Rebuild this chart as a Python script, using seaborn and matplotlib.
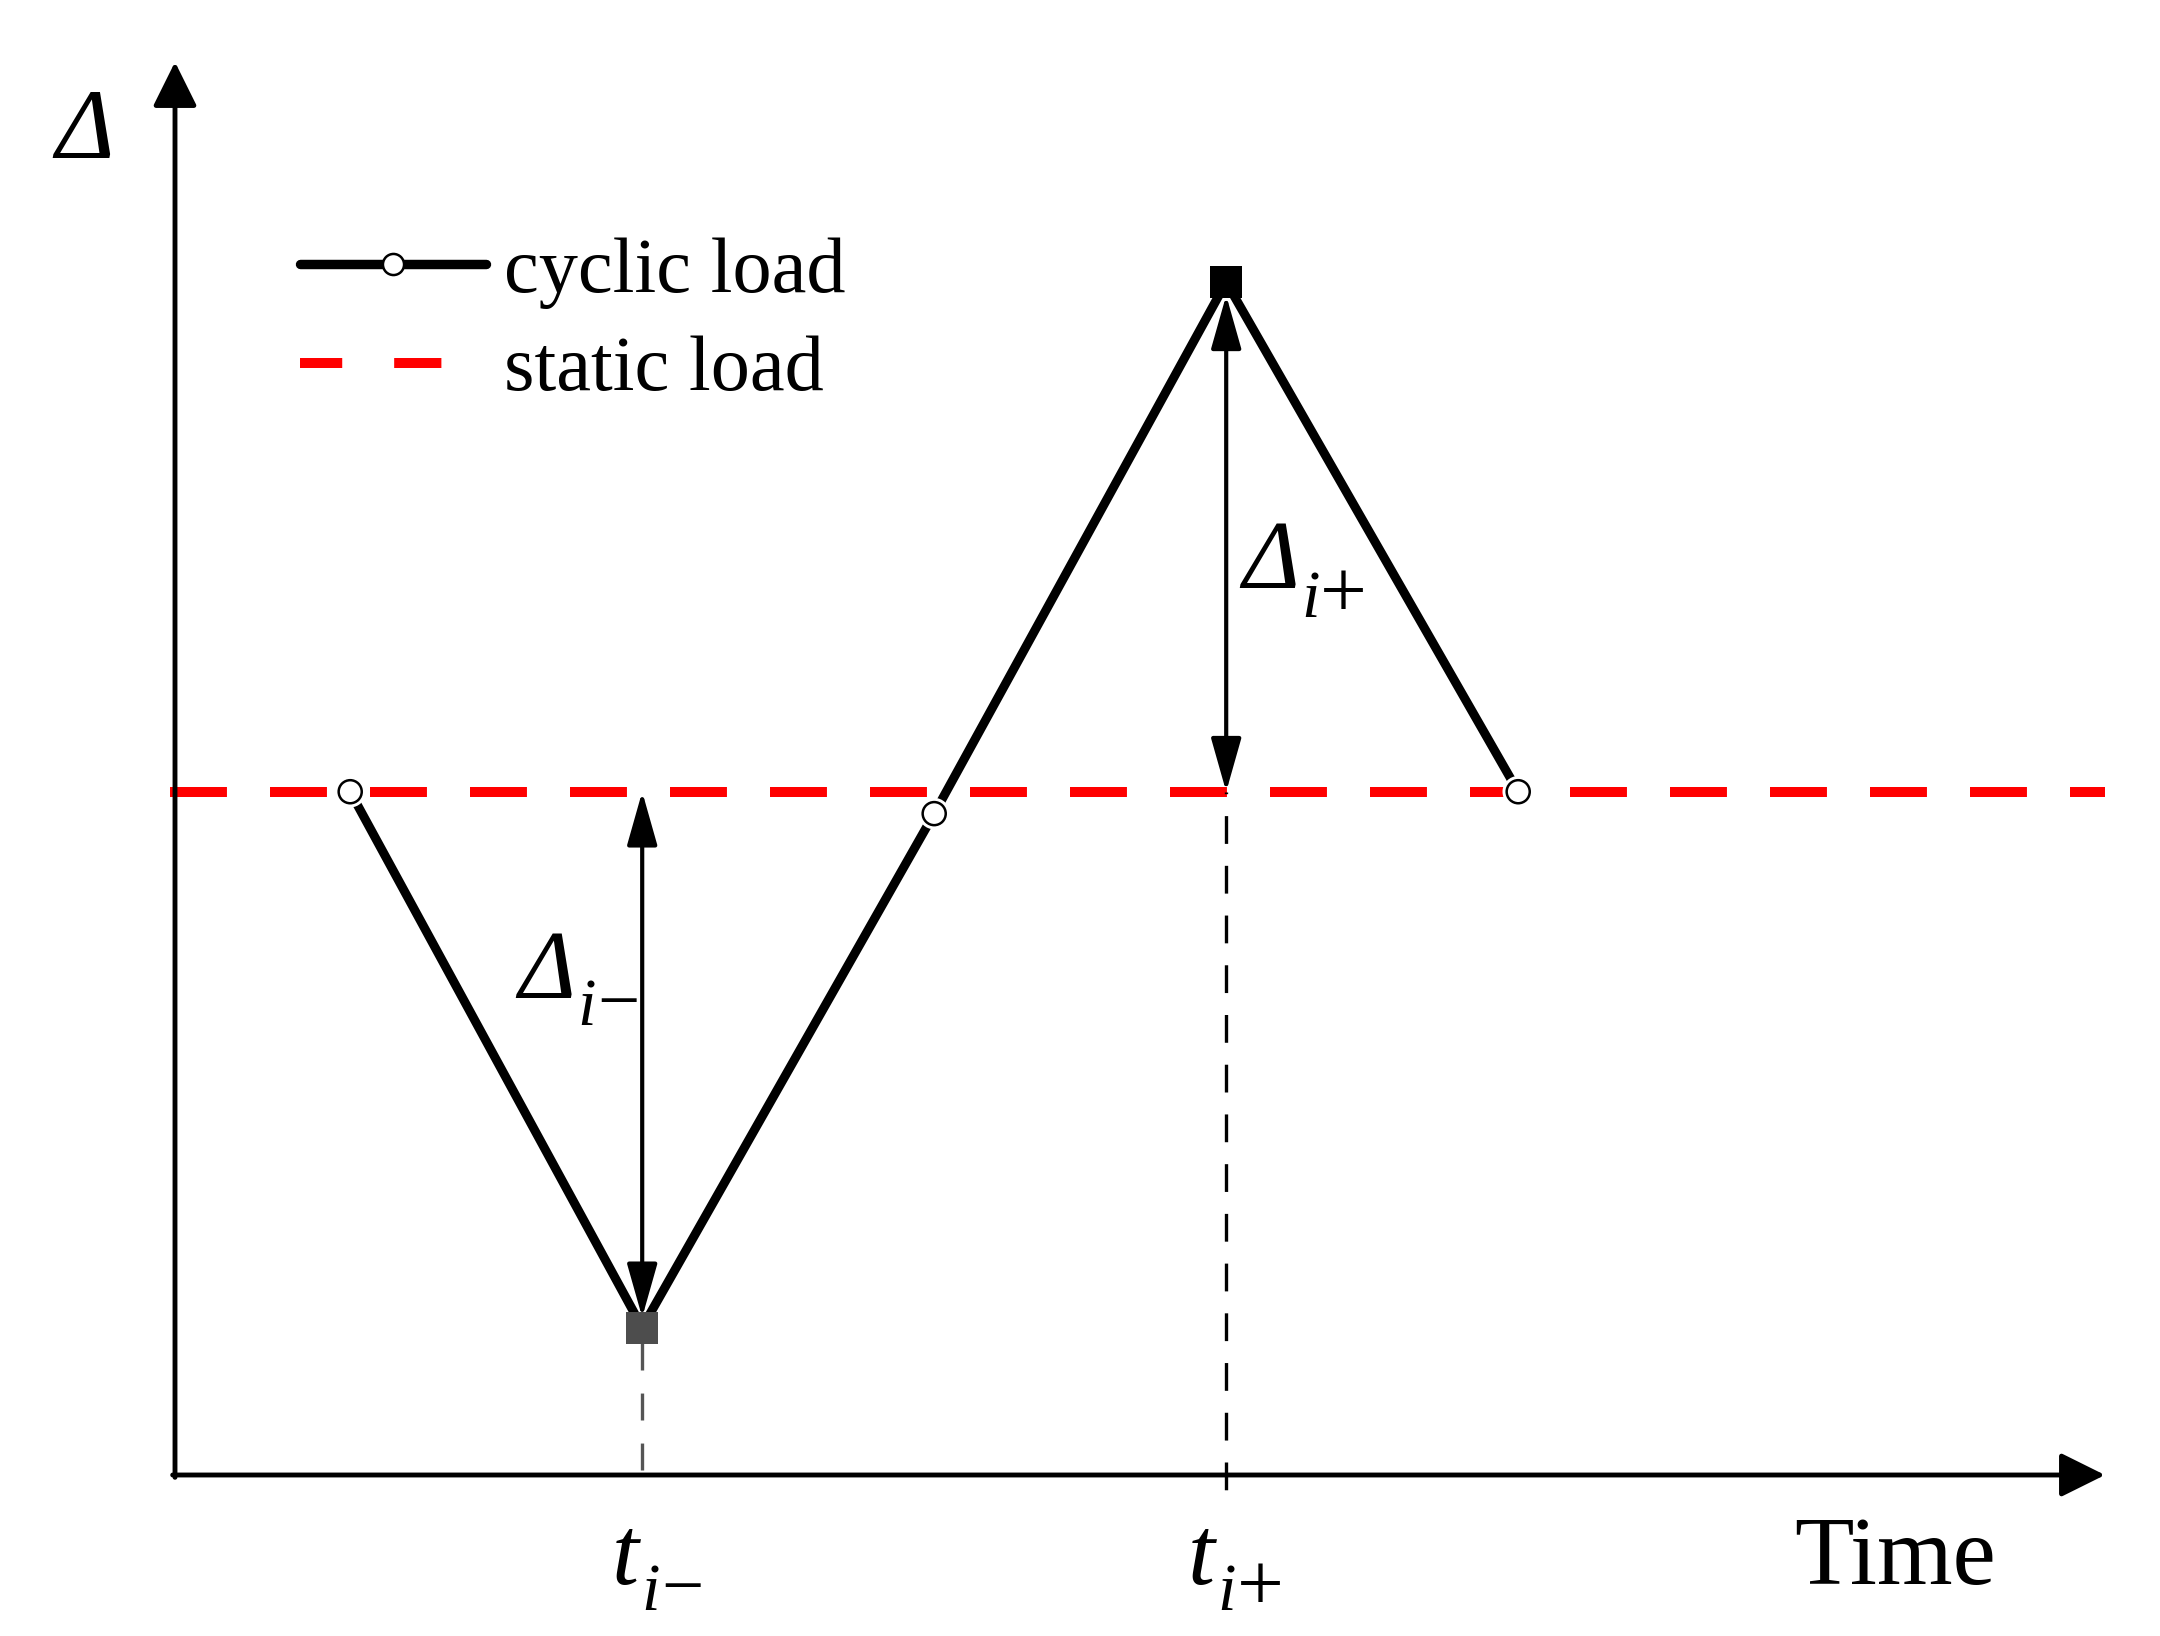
import matplotlib
matplotlib.use('Agg')
import matplotlib.pyplot as plt
import matplotlib.patheffects as pe
from matplotlib.lines import Line2D
import seaborn as sns
import pandas as pd

# ---------------- data ----------------
time_points = [1.2, 3.2, 5.2, 7.2, 9.2]          # time of each vertex
cyclic_disp = [4.68, 1.01, 4.53, 8.17, 4.68]     # cyclic-load displacement
static_level = 4.68                               # static-load displacement
circle_idx = [0, 2, 4]
trough_idx = 1
peak_idx = 3
legend_labels = ['cyclic load', 'static load']
x_label = 'Time'
y_label = 'Δ'

# ---------------- style ----------------
sns.set_style('white')
plt.rcParams['font.family'] = ['Liberation Serif', 'DejaVu Serif']
plt.rcParams['lines.scale_dashes'] = False
plt.rcParams['text.color'] = 'black'

W, H, DPI = 2160, 1636, 200
PXU = 146.0            # pixels per data unit
X0, Y0 = 175, 1475     # pixel position of the axis origin

fig = plt.figure(figsize=(W / DPI, H / DPI), dpi=DPI)
ax = fig.add_axes([0, 0, 1, 1])
ax.set_xlim(-X0 / PXU, (W - X0) / PXU)
ax.set_ylim(-(H - Y0) / PXU, Y0 / PXU)
ax.set_axis_off()

# axes with arrows
y_axis_top = (Y0 - 62) / PXU
x_axis_end = (2105 - X0) / PXU
ax_arrow = dict(arrowstyle='-|>,head_length=13.7,head_width=6.8', mutation_scale=1,
                lw=1.75, color='black', shrinkA=0, shrinkB=0)
ax.annotate('', xy=(0, y_axis_top), xytext=(0, -0.016), arrowprops=ax_arrow, zorder=6)
ax.annotate('', xy=(x_axis_end, 0), xytext=(-0.016, 0), arrowprops=ax_arrow, zorder=6)

# static load
ax.axhline(static_level, xmin=170 / W, xmax=2105 / W, color='#ff0000', lw=3.6,
           ls=(0, (20.5, 15.5)), zorder=2)

# cyclic load
df = pd.DataFrame({'t': time_points, 'd': cyclic_disp})
sns.lineplot(data=df, x='t', y='d', sort=False, estimator=None, color='black',
             lw=3.24, ax=ax, zorder=3)

# vertical dashed guides
t_tr, d_tr = time_points[trough_idx], cyclic_disp[trough_idx]
t_pk, d_pk = time_points[peak_idx], cyclic_disp[peak_idx]
ax.plot([t_tr, t_tr], [0, d_tr], color='#555555', lw=1.2, ls=(16.2, (9.7, 8.3)), zorder=2)
ax.plot([t_pk, t_pk], [static_level, -0.15], color='black', lw=1.2, ls=(9.4, (10.0, 7.9)), zorder=2)

# square markers
sns.scatterplot(x=[t_tr], y=[d_tr], marker='s', s=125, color='#4d4d4d', linewidth=0, ax=ax, zorder=4)
sns.scatterplot(x=[t_pk], y=[d_pk], marker='s', s=125, color='black', linewidth=0, ax=ax, zorder=4)

# circle markers
sns.scatterplot(x=[time_points[i] for i in circle_idx], y=[cyclic_disp[i] for i in circle_idx],
                marker='o', s=69, color='white', edgecolor='black', linewidth=0.9, ax=ax, zorder=5)
ax.collections[-1].set_path_effects([pe.Stroke(linewidth=3.0, foreground='white'), pe.Normal()])

# double arrows
dbl = dict(arrowstyle='<|-|>,head_length=16.6,head_width=4.7', mutation_scale=1,
           lw=1.5, color='black', shrinkA=0, shrinkB=0)
ax.annotate('', xy=(t_tr, static_level), xytext=(t_tr, d_tr + 0.07), arrowprops=dbl, zorder=6)
ax.annotate('', xy=(t_pk, d_pk - 0.09), xytext=(t_pk, static_level), arrowprops=dbl, zorder=6)

# ---------------- text ----------------
def T(xp, yp, s, size, style='normal'):
    fig.text(xp / W, 1 - yp / H, s, ha='left', va='baseline', fontsize=size,
             fontstyle=style, color='black')

T(55, 158, y_label, 36, 'italic')
T(1794, 1584, x_label, 35)

# Delta_{i-}
T(518, 998, 'Δ', 35, 'italic')
T(577, 1025, 'i', 24, 'italic')
T(597, 1025, '−', 27)
# Delta_{i+}
T(1242, 588, 'Δ', 35, 'italic')
T(1301, 617, 'i', 24, 'italic')
T(1320, 617, '+', 30)
# t_{i-}
T(612, 1584, 't', 35, 'italic')
T(641, 1610, 'i', 24, 'italic')
T(661, 1610, '−', 27)
# t_{i+}
T(1188, 1584, 't', 35, 'italic')
T(1217, 1610, 'i', 24, 'italic')
T(1237, 1610, '+', 30)

# legend
handles = [
    Line2D([], [], color='black', lw=3.4, marker='o', ms=7.6, mfc='white', mec='black', mew=0.9),
    Line2D([], [], color='#ff0000', lw=3.6, ls=(1.8, (17.0, 18.7))),
]
ax.legend(handles, legend_labels, loc='upper left', bbox_to_anchor=(300 / W, 1 - 237 / H),
          bbox_transform=fig.transFigure, frameon=False, fontsize=28.2, handlelength=2.38,
          handletextpad=0.22, labelspacing=0.34, borderpad=0, borderaxespad=0, numpoints=1,
          labelcolor='black')

fig.savefig('out.png', dpi=DPI, facecolor='white')
